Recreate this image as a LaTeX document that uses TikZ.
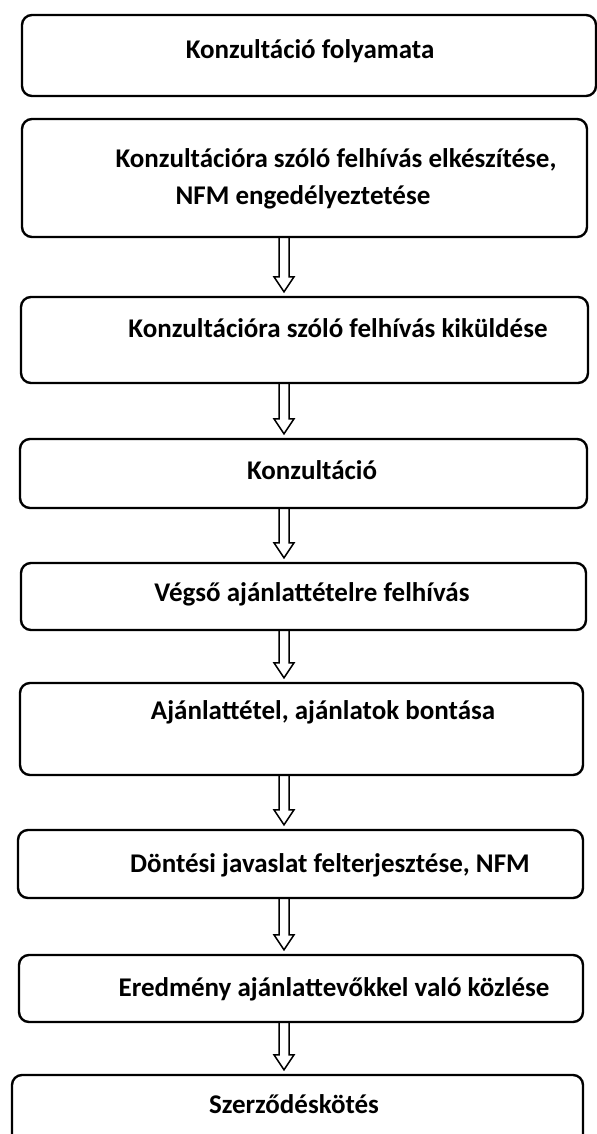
\documentclass[tikz,border=0pt]{standalone}
\usepackage{fontspec}
\setmainfont{Carlito}
\usetikzlibrary{calc,fit}

\tikzset{
	stepbox/.style={draw, line width=1.2pt, rounded corners=5pt, inner sep=0pt},
	boxtext/.style={font=\bfseries\fontsize{13.5}{16}\selectfont, anchor=base, inner sep=0pt},
	flowarrow/.style={line width=0.75pt, line join=miter}
}
% hollow block arrow from the bottom of #1 to the top of #2
\newcommand\hollowarrow[2]{\draw[flowarrow] ($(ax |- #1.south)+(-5,0)$) -- ($(ax |- #2.north)+(-5,-19)$) -- ($(ax |- #2.north)+(-10,-19)$) -- ($(ax |- #2.north)+(0,-4)$) -- ($(ax |- #2.north)+(10,-19)$) -- ($(ax |- #2.north)+(5,-19)$) -- ($(ax |- #1.south)+(5,0)$);}

\begin{document}
\begin{tikzpicture}[x=0.5pt, y=-0.5pt]
		%%%%% START %%%%%
		\useasboundingbox (0,0) rectangle (597,1134);
		
		\node[stepbox, fit={(22,15) (596,96)}] (b1) {};
		\node[stepbox, fit={(22,119) (587,237)}] (b2) {};
		\node[stepbox, fit={(21,297) (588,383)}] (b3) {};
		\node[stepbox, fit={(20,439) (587,508)}] (b4) {};
		\node[stepbox, fit={(21,563) (586,630)}] (b5) {};
		\node[stepbox, fit={(20,683) (583,775)}] (b6) {};
		\node[stepbox, fit={(18,830) (583,898)}] (b7) {};
		\node[stepbox, fit={(19,955) (583,1022)}] (b8) {};
		\node[stepbox, fit={(12,1075) (583,1145)}] (b9) {};
		
		\node[boxtext] (t1) at (310,59) {Konzultáció folyamata};
		\node[boxtext] (t2a) at (336,168) {Konzultációra szóló felhívás elkészítése,};
		\node[boxtext] (t2b) at (303,205) {NFM engedélyeztetése};
		\node[boxtext] (t3) at (338,337) {Konzultációra szóló felhívás kiküldése};
		\node[boxtext] (t4) at (312,479) {Konzultáció};
		\node[boxtext] (t5) at (312,601) {Végső ajánlattételre felhívás};
		\node[boxtext] (t6) at (323,719) {Ajánlattétel, ajánlatok bontása};
		\node[boxtext] (t7) at (330,872) {Döntési javaslat felterjesztése, NFM};
		\node[boxtext] (t8) at (334,996) {Eredmény ajánlattevőkkel való közlése};
		\node[boxtext] (t9) at (294,1113) {Szerződéskötés};
		
		\coordinate (ax) at (284,0);
		\hollowarrow{b2}{b3}
		\hollowarrow{b3}{b4}
		\hollowarrow{b4}{b5}
		\hollowarrow{b5}{b6}
		\hollowarrow{b6}{b7}
		\hollowarrow{b7}{b8}
		\hollowarrow{b8}{b9}
		
		%%%%% END %%%%%
\end{tikzpicture}
\end{document}
